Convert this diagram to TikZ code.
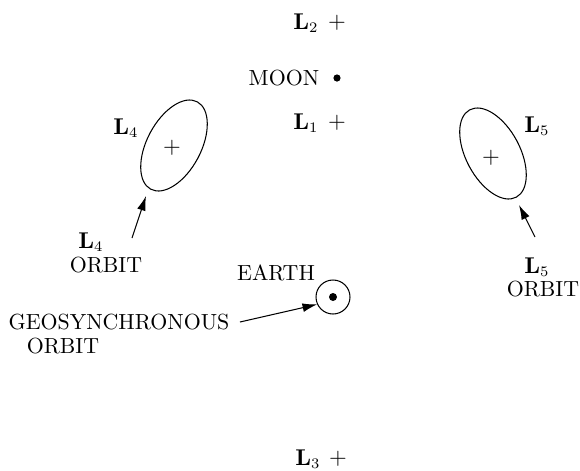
\documentclass[tikz,border=0pt]{standalone}
\usetikzlibrary{arrows.meta}
\begin{document}
\begin{tikzpicture}[x=0.48pt,y=0.48pt,
  every node/.append style={font=\fontsize{10.5}{12.6}\selectfont},
  lbl/.style={inner sep=0pt, anchor=center},
  pt/.style={inner sep=0pt, anchor=center},
  arr/.style={-{Latex[length=7pt,width=4.2pt]}, line width=0.5pt},
  orb/.style={line width=0.5pt}]
\useasboundingbox (0,0) rectangle (580,470);
% Lagrange points on the Earth–Moon line
\node[lbl] (l2) at (306,447) {$\mathbf{L}_2$};
\node[pt] (p2) at (337,447) {$+$};
\node[lbl] (moon) at (284,392) {MOON};
\fill (337,392) circle (3.6) coordinate (moondot);
\node[lbl] (l1) at (306,347) {$\mathbf{L}_1$};
\node[pt] (p1) at (337,347) {$+$};
\node[lbl] (l3) at (308,11) {$\mathbf{L}_3$};
\node[pt] (p3) at (338,11) {$+$};
% L4 orbit
\coordinate (l4c) at (174,324.5);
\draw[orb, rotate around={62:(l4c)}] (l4c) ellipse (49.5 and 27);
\node[pt] (p4) at (172,322) {$+$};
\node[lbl] (l4) at (126,342) {$\mathbf{L}_4$};
\node[lbl] (l4o1) at (91,228) {$\mathbf{L}_4$};
\node[lbl] (l4o2) at (106,205) {ORBIT};
\coordinate (l4bot) at (146,274);
\coordinate (l4tail) at (132,232);
\draw[arr] (l4tail) -- (l4bot);
% L5 orbit
\coordinate (l5c) at (493,316.5);
\draw[orb, rotate around={118:(l5c)}] (l5c) ellipse (49.5 and 27);
\node[pt] (p5) at (491,312) {$+$};
\node[lbl] (l5) at (537,344) {$\mathbf{L}_5$};
\node[lbl] (l5o1) at (537,203) {$\mathbf{L}_5$};
\node[lbl] (l5o2) at (543,181) {ORBIT};
\coordinate (l5bot) at (519,265);
\coordinate (l5tail) at (535,233);
\draw[arr] (l5tail) -- (l5bot);
% Earth
\node[lbl] (earthlbl) at (276,197) {EARTH};
\node[draw, circle, minimum size=34*0.48pt, inner sep=0pt, line width=0.5pt] (earth) at (333,173) {};
\fill (earth.center) circle (4);
\node[lbl] (geo1) at (119,148) {GEOSYNCHRONOUS};
\node[lbl] (geo2) at (63,124) {ORBIT};
\coordinate (geotail) at (240,148);
\draw[arr] (geotail) -- (earth.205);
\end{tikzpicture}
\end{document}
